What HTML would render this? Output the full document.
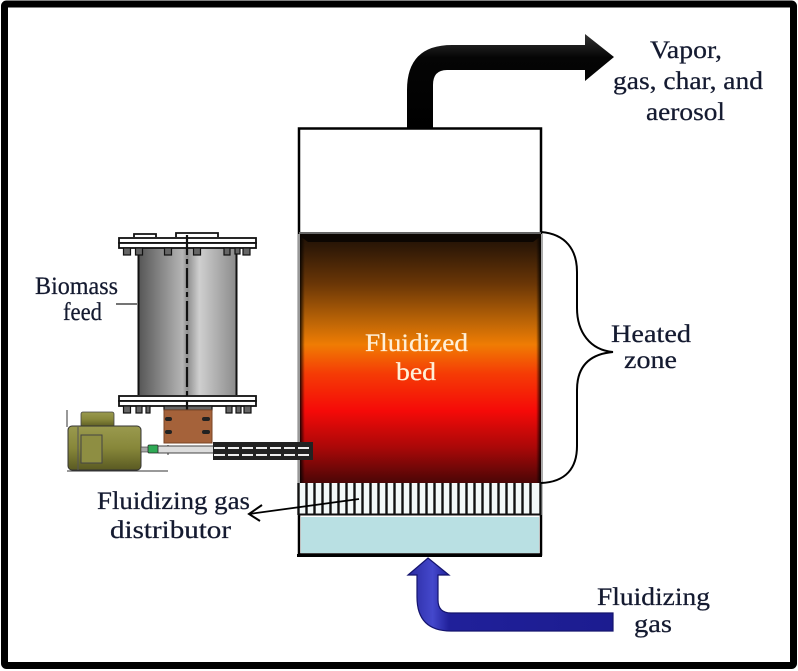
<!DOCTYPE html>
<html><head><meta charset="utf-8">
<style>html,body{margin:0;padding:0;background:#fff}svg{display:block;filter:blur(.35px)}text{font-family:"Liberation Serif",serif;font-size:25px;fill:#141a30;stroke:#141a30;stroke-width:.25px}</style>
</head><body>
<svg xmlns="http://www.w3.org/2000/svg" width="798" height="671" viewBox="0 0 798 671">
<defs>
<linearGradient id="bed" x1="0" y1="0" x2="0" y2="1">
<stop offset="0" stop-color="#1f1005"/><stop offset=".05" stop-color="#2e1806"/><stop offset=".2" stop-color="#6a3606"/><stop offset=".35" stop-color="#bb6406"/><stop offset=".445" stop-color="#f07c04"/><stop offset=".56" stop-color="#f53c05"/><stop offset=".71" stop-color="#f50a08"/><stop offset=".86" stop-color="#a80808"/><stop offset="1" stop-color="#4a0606"/>
</linearGradient>
<linearGradient id="side" x1="0" y1="0" x2="1" y2="0">
<stop offset="0" stop-color="#000" stop-opacity=".85"/><stop offset=".02" stop-color="#000" stop-opacity="0"/><stop offset=".98" stop-color="#000" stop-opacity="0"/><stop offset="1" stop-color="#000" stop-opacity=".9"/>
</linearGradient>
<linearGradient id="cyl" x1="0" y1="0" x2="1" y2="0">
<stop offset="0" stop-color="#555"/><stop offset=".45" stop-color="#b5b5b5"/><stop offset=".5" stop-color="#8f8f8f"/><stop offset=".62" stop-color="#cfcfcf"/><stop offset="1" stop-color="#8a8a8a"/>
</linearGradient>
<linearGradient id="mot" x1="0" y1="0" x2="0" y2="1">
<stop offset="0" stop-color="#9a9a4e"/><stop offset=".5" stop-color="#87873a"/><stop offset="1" stop-color="#5a5a22"/>
</linearGradient>
<linearGradient id="blk" x1="0" y1="0" x2="0" y2="1">
<stop offset="0" stop-color="#333"/><stop offset=".25" stop-color="#050505"/><stop offset="1" stop-color="#000"/>
</linearGradient>
<linearGradient id="blu" x1="0" y1="0" x2="1" y2="0">
<stop offset="0" stop-color="#2a2aa0"/><stop offset=".12" stop-color="#4448cc"/><stop offset=".2" stop-color="#20209a"/><stop offset="1" stop-color="#1c1c90"/>
</linearGradient>
</defs>

<rect x="4.5" y="4" width="789" height="661.500" fill="#fff" stroke="#000" stroke-width="7" rx="2"/>

<!-- black arrow -->
<path d="M407 128V90Q407 45 452 45H585V34L614 57L585 81V70H447Q433 70 433 85V128Z" fill="url(#blk)"/>

<!-- vessel -->
<rect x="299" y="128.500" width="242" height="426" fill="#fff" stroke="#000" stroke-width="2.500"/>
<rect x="299" y="232" width="242" height="2.500" fill="#666"/>
<rect x="298" y="234" width="2.500" height="250" fill="#999"/>
<rect x="300" y="234" width="241" height="249" fill="url(#bed)"/>
<rect x="300" y="234" width="241" height="249" fill="url(#side)"/>
<path d="M300 234H541V236L533 242H308L300 236Z" fill="#0c0602"/>
<rect x="541" y="234" width="2" height="250" fill="#aaa"/>

<!-- distributor -->
<rect x="298" y="483" width="244" height="32" fill="#f2f8f8"/>
<g stroke="#111" stroke-width="2.400">
<path d="M298.500 483V515M306.500 483V515M314.500 483V515M322.500 483V515M330.500 483V515M338.500 483V515M346.500 483V515M354.500 483V515M362.500 483V515M370.500 483V515M378.500 483V515M386.500 483V515M394.500 483V515M402.500 483V515M410.500 483V515M418.500 483V515M426.500 483V515M434.500 483V515M442.500 483V515M450.500 483V515M458.500 483V515M466.500 483V515M474.500 483V515M482.500 483V515M490.500 483V515M498.500 483V515M506.500 483V515M514.500 483V515M522.500 483V515M530.500 483V515M540.500 483V515"/>
<path d="M298 514.500H541" stroke-width="2"/>
</g>
<rect x="301" y="517" width="238" height="36" fill="#b9e0e3"/>
<rect x="297" y="554" width="245" height="3" fill="#000"/>

<!-- blue arrow -->
<path d="M428 558L449 575H438V600Q438 613 451 613H613V631H451Q417 631 417 597V575H408Z" fill="url(#blu)" stroke="#14146e" stroke-width="1.200"/>

<!-- brace -->
<path d="M541 232C566 234 577 250 577 272V308C577 332 590 350 613 352C590 354 577 366 577 390V446C577 468 566 482 541 483" fill="none" stroke="#000" stroke-width="2"/>

<!-- pointer -->
<path d="M359 499L249 514" stroke="#000" stroke-width="1.800" fill="none"/>
<path d="M262 505L249 514L260 521" stroke="#000" stroke-width="2" fill="none"/>

<!-- feeder -->
<rect x="138" y="248" width="99" height="147" fill="url(#cyl)"/>
<path d="M138.500 248V395M236.500 248V395" stroke="#111" stroke-width="2"/>
<g fill="#fff" stroke="#111" stroke-width="1.800">
<rect x="119" y="238" width="137" height="5"/>
<rect x="119" y="243" width="137" height="5"/>
<rect x="119" y="396" width="137" height="5"/>
<rect x="119" y="401" width="137" height="5"/>
<path d="M134 237V234H156V237M176 237V233H218V237" fill="none"/>
</g>
<g fill="#666" stroke="#111" stroke-width="1.200">
<rect x="123.500" y="248" width="7" height="7"/><rect x="135.500" y="248" width="7" height="7"/><rect x="164.500" y="248" width="7" height="7"/><rect x="193.500" y="248" width="7" height="7"/><rect x="224" y="248" width="6" height="7"/><rect x="243" y="248" width="7" height="7"/><rect x="235" y="248" width="5" height="6"/>
<rect x="123.500" y="406" width="7" height="7"/><rect x="136" y="406" width="6" height="7"/><rect x="146" y="406" width="4" height="7"/><rect x="226" y="406" width="6" height="7"/><rect x="236" y="406" width="5" height="7"/><rect x="244" y="406" width="7" height="7"/><rect x="164" y="406" width="48" height="4"/>
</g>
<path d="M187 235V410" stroke="#111" stroke-width="2.200" stroke-dasharray="20 4 5 4"/>
<rect x="164" y="410" width="48" height="33" fill="#a5623a" stroke="#7a4526"/>
<g fill="#222"><rect x="165" y="417" width="7" height="4" rx="2"/><rect x="202" y="417" width="8" height="4" rx="2"/><rect x="165" y="430" width="7" height="4" rx="2"/><rect x="202" y="430" width="8" height="4" rx="2"/></g>
<path d="M116 304H137" stroke="#222" stroke-width="1.200"/>

<path d="M67 410V427M67 471H168M168 445V455" stroke="#333" stroke-width="1" fill="none"/>
<rect x="81" y="412" width="33" height="15" rx="2" fill="url(#mot)" stroke="#444" stroke-width=".8"/>
<rect x="68" y="426" width="73" height="44" rx="4" fill="url(#mot)" stroke="#333" stroke-width="1"/>
<rect x="81" y="435" width="21" height="28" fill="#8e8e42" stroke="#444"/>
<path d="M78 427V470" stroke="#555" stroke-width="1"/>
<rect x="141" y="447" width="8" height="5" fill="#aaa" stroke="#333" stroke-width=".6"/>
<rect x="148" y="445" width="10" height="8" rx="1" fill="#2faa55" stroke="#222" stroke-width=".7"/>
<rect x="158" y="446" width="56" height="7" fill="#ddd" stroke="#333" stroke-width=".9"/>
<rect x="213" y="442" width="100" height="18" fill="#222"/>
<path d="M214 448H312M214 455H312" stroke="#eee" stroke-width="2" stroke-dasharray="11 3"/>

<!-- labels -->
<text x="650" y="58" textLength="72" lengthAdjust="spacingAndGlyphs">Vapor,</text>
<text x="613" y="89" textLength="150" lengthAdjust="spacingAndGlyphs">gas, char, and</text>
<text x="646" y="120" textLength="79" lengthAdjust="spacingAndGlyphs">aerosol</text>
<text x="35" y="294" textLength="83" lengthAdjust="spacingAndGlyphs">Biomass</text>
<text x="63" y="320" textLength="39" lengthAdjust="spacingAndGlyphs">feed</text>
<text x="365" y="351" textLength="103" lengthAdjust="spacingAndGlyphs" style="fill:#fff0d8;stroke:#fff0d8">Fluidized</text>
<text x="396" y="380" textLength="40" lengthAdjust="spacingAndGlyphs" style="fill:#fff0d8;stroke:#fff0d8">bed</text>
<text x="611" y="342" textLength="80" lengthAdjust="spacingAndGlyphs">Heated</text>
<text x="624" y="368" textLength="53" lengthAdjust="spacingAndGlyphs">zone</text>
<text x="97" y="509" textLength="153" lengthAdjust="spacingAndGlyphs">Fluidizing gas</text>
<text x="110" y="538" textLength="121" lengthAdjust="spacingAndGlyphs">distributor</text>
<text x="597" y="605" textLength="113" lengthAdjust="spacingAndGlyphs">Fluidizing</text>
<text x="634" y="632" textLength="38" lengthAdjust="spacingAndGlyphs">gas</text>
</svg>
</body></html>
